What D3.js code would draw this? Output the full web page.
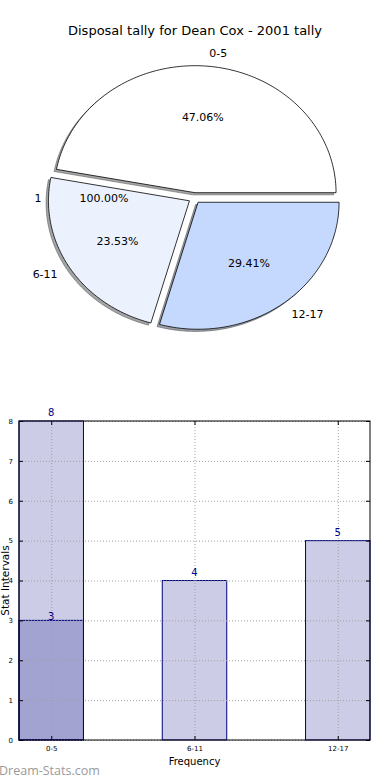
<!DOCTYPE html>
<html><head><meta charset="utf-8">
<script src="https://cdn.jsdelivr.net/npm/d3@7"></script>
<style>body{margin:0;background:#fff}svg{display:block}text{font-family:"DejaVu Sans",sans-serif}</style>
</head><body>
<svg id="c" width="390" height="780"></svg>
<script>
const title = "Disposal tally for Dean Cox - 2001 tally";
const categories = ["0-5", "6-11", "12-17"];
const values = [8, 4, 5];
const pieColors = ["#ffffff", "#ebf2fe", "#c4d9fd"];
const ghostLabel = "1";
const ghostValue = [1];
const overlayValues = [3];
const yTicks = [0,1,2,3,4,5,6,7,8];
const xLabel = "Frequency";
const yLabel = "Stat Intervals";
const watermark = "Dream-Stats.com";

const svg = d3.select("#c");
svg.append("text").attr("x", 195).attr("y", 35).attr("text-anchor","middle")
  .attr("font-size", 13).text(title);

// ---------- Pie (matplotlib-style, elliptical, exploded, shadowed) ----------
const cx = 194.5, cy = 198, rx = 141, ry = 127, explode = 0.042;
const sx = d3.scaleLinear().domain([-1,1]).range([cx-rx, cx+rx]);
const sy = d3.scaleLinear().domain([-1,1]).range([cy+ry, cy-ry]);
const total = d3.sum(values);
let acc = 0;
const wedges = values.map((v,i)=>{
  const t1 = acc/total*2*Math.PI; acc += v; const t2 = acc/total*2*Math.PI;
  return {i, v, t1, t2, mid:(t1+t2)/2};
});
function wedgePath(t1, t2, ox, oy) {
  const pts = [[ox, oy]];
  const n = 120;
  for (let k=0;k<=n;k++){ const t = t1+(t2-t1)*k/n; pts.push([ox+Math.cos(t), oy+Math.sin(t)]); }
  return d3.line().x(d=>sx(d[0])).y(d=>sy(d[1]))(pts) + "Z";
}
const pg = svg.append("g");
// shadows
wedges.forEach(w=>{
  const ox = explode*Math.cos(w.mid), oy = explode*Math.sin(w.mid);
  const c = d3.rgb(pieColors[w.i]);
  const dc = d3.rgb(c.r*0.3, c.g*0.3, c.b*0.3);
  pg.append("path").attr("d", wedgePath(w.t1, w.t2, ox-0.017, oy-0.017))
    .attr("fill", dc).attr("fill-opacity",0.5).attr("stroke", dc).attr("stroke-opacity",0.5).attr("stroke-width",1);
});
wedges.forEach(w=>{
  const ox = explode*Math.cos(w.mid), oy = explode*Math.sin(w.mid);
  pg.append("path").attr("d", wedgePath(w.t1, w.t2, ox, oy))
    .attr("fill", pieColors[w.i]).attr("stroke","#000").attr("stroke-width",0.8).attr("stroke-linejoin","miter");
});
// labels
const fmt = d3.format(".2f");
wedges.forEach(w=>{
  const ox = explode*Math.cos(w.mid), oy = explode*Math.sin(w.mid);
  const lx = ox + 1.1*Math.cos(w.mid), ly = oy + 1.1*Math.sin(w.mid);
  pg.append("text").attr("x", sx(lx)).attr("y", sy(ly)).attr("dy","0.35em")
    .attr("text-anchor", lx>0 ? "start":"end").attr("font-size",11).text(categories[w.i]);
  const px = ox + 0.6*Math.cos(w.mid), py = oy + 0.6*Math.sin(w.mid);
  pg.append("text").attr("x", sx(px)).attr("y", sy(py)).attr("dy","0.35em")
    .attr("text-anchor","middle").attr("font-size",11).text(fmt(w.v/total*100)+"%");
});
// ghost single-value pie labels (drawn at 180 degrees)
const gmid = Math.PI;
pg.append("text").attr("x", sx(1.1*Math.cos(gmid))+2).attr("y", sy(1.1*Math.sin(gmid))).attr("dy","0.35em")
  .attr("text-anchor","end").attr("font-size",11).text(ghostLabel);
pg.append("text").attr("x", sx(0.6*Math.cos(gmid))-6).attr("y", sy(0.6*Math.sin(gmid))).attr("dy","0.35em")
  .attr("text-anchor","middle").attr("font-size",11).text(fmt(ghostValue[0]/d3.sum(ghostValue)*100)+"%");

// ---------- Bar chart ----------
const L = 19, R = 370, T = 421, B = 740, bw = 0.45;
const x = d3.scaleLinear().domain([-bw/2, categories.length-1+bw/2]).range([L, R]);
const y = d3.scaleLinear().domain([0, 8]).range([B, T]);
const g = svg.append("g");
const barFill = "rgba(0,0,128,0.2)";
g.selectAll("rect.main").data(values).join("rect")
  .attr("x",(d,i)=>x(i-bw/2)).attr("y",d=>y(d)).attr("width",(d,i)=>x(i+bw/2)-x(i-bw/2)).attr("height",d=>B-y(d))
  .attr("fill",barFill).attr("stroke","#000080").attr("stroke-width",1);
g.selectAll("rect.ov").data(overlayValues).join("rect")
  .attr("x",(d,i)=>x(i-bw/2)).attr("y",d=>y(d)).attr("width",(d,i)=>x(i+bw/2)-x(i-bw/2)).attr("height",d=>B-y(d))
  .attr("fill",barFill).attr("stroke","#000080").attr("stroke-width",1);
// grid
g.selectAll("line.gy").data(yTicks).join("line")
  .attr("x1",L).attr("x2",R).attr("y1",d=>y(d)+0.5).attr("y2",d=>y(d)+0.5)
  .attr("stroke","#a0a0a0").attr("stroke-width",1).attr("stroke-dasharray","1,2");
g.selectAll("line.gx").data(categories).join("line")
  .attr("x1",(d,i)=>x(i)+0.5).attr("x2",(d,i)=>x(i)+0.5).attr("y1",T).attr("y2",B)
  .attr("stroke","#a0a0a0").attr("stroke-width",1).attr("stroke-dasharray","1,2");
// frame
g.append("rect").attr("x",L).attr("y",T).attr("width",R-L).attr("height",B-T)
  .attr("fill","none").attr("stroke","#000").attr("stroke-width",1);
// axes with inward ticks
const ay = g.append("g").attr("transform",`translate(${L},0)`)
  .call(d3.axisLeft(y).tickValues(yTicks).tickSize(-4).tickPadding(6).tickFormat(d3.format("d")));
const ay2 = g.append("g").attr("transform",`translate(${R},0)`)
  .call(d3.axisRight(y).tickValues(yTicks).tickSize(-4).tickFormat(""));
const ax = g.append("g").attr("transform",`translate(0,${B})`)
  .call(d3.axisBottom(x).tickValues(categories.map((d,i)=>i)).tickSize(-4).tickPadding(6).tickFormat(i=>categories[i]));
const ax2 = g.append("g").attr("transform",`translate(0,${T})`)
  .call(d3.axisTop(x).tickValues(categories.map((d,i)=>i)).tickSize(-4).tickFormat(""));
[ay,ay2,ax,ax2].forEach(a=>{ a.select(".domain").remove(); a.selectAll("line").attr("stroke","#000");
  a.selectAll("text").attr("font-size",7).attr("font-family","DejaVu Sans").attr("fill","#000"); });
// value labels
g.selectAll("text.v").data(values).join("text")
  .attr("x",(d,i)=>x(i)).attr("y",d=>y(d)-5).attr("text-anchor","middle")
  .attr("font-size",10).attr("fill","#00008b").text(d=>d);
g.selectAll("text.ov").data(overlayValues).join("text")
  .attr("x",(d,i)=>x(i)).attr("y",d=>y(d)).attr("text-anchor","middle")
  .attr("font-size",10).attr("fill","#00008b").text(d=>d);
svg.append("text").attr("x",(L+R)/2).attr("y",765).attr("text-anchor","middle").attr("font-size",10).text(xLabel);
svg.append("text").attr("transform",`translate(9,${(T+B)/2}) rotate(-90)`).attr("text-anchor","middle")
  .attr("font-size",10.5).text(yLabel);
svg.append("text").attr("x",-1).attr("y",775).attr("font-size",12.5).attr("fill","#9a9a9a")
  .style("font-family","'Open Sans',sans-serif").text(watermark);
</script>
</body></html>
